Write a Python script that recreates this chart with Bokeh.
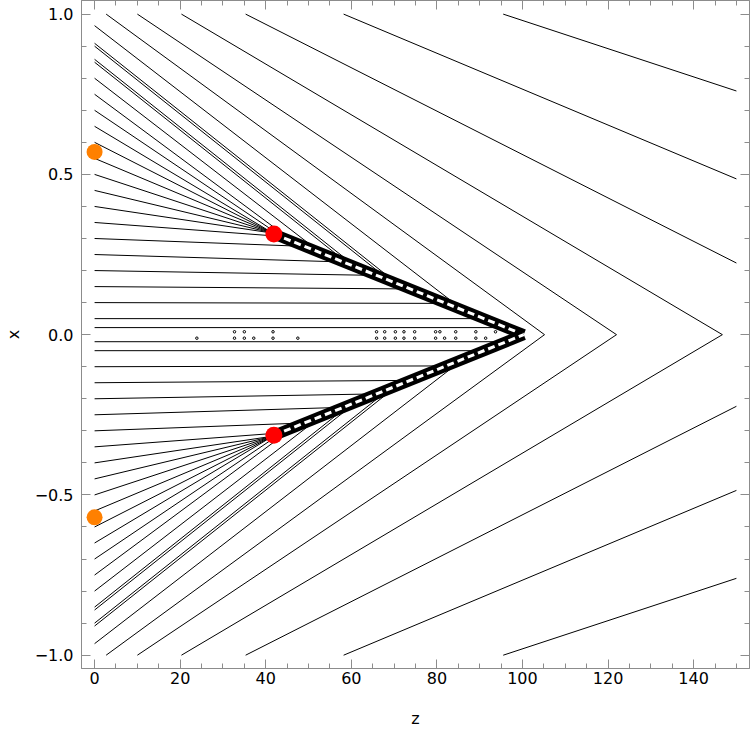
import numpy as np
from bokeh.plotting import figure
from bokeh.models import Range1d, SingleIntervalTicker, LinearAxis, CustomJSTickFormatter
from bokeh.embed import file_html
from bokeh.resources import INLINE

# ---- data ----
# rays starting on the left edge (z = 0), upper half; lower half is the mirror image
ray_x0 = [0.022, 0.05, 0.10, 0.15, 0.20, 0.25, 0.30, 0.35, 0.40, 0.45, 0.50,
          0.55, 0.60, 0.65, 0.70, 0.75, 0.80, 0.85, 0.859, 0.90, 0.909, 0.964]
ray_slope = [0.0, 0.0, -0.00003, -0.0001, -0.00023, -0.0004, -0.0005, -0.0010,
             -0.0020, -0.0032, -0.0044, -0.0056, -0.0068, -0.0080, -0.0090,
             -0.0099, -0.0103, -0.0106, -0.0106, -0.0106, -0.0106, -0.0103]
# rays entering through the top edge (x = 1)
top_z = [2.7, 10.0, 20.3, 35.3, 58.2, 95.5]
top_slope = [-0.00976, -0.00893, -0.00791, -0.00677, -0.0056, -0.0044]
# shock front (upper branch)
shock_z = [41.9, 100.3]
shock_x = [0.314, 0.0]
# marked points
orange_z = [0.0, 0.0]
orange_x = [0.57, -0.57]
red_z = [41.9, 41.9]
red_x = [0.314, -0.314]
# tiny contour artefacts near the axis
dots_up_z = [32.7, 35.0, 41.7, 65.9, 67.8, 70.3, 72.3, 74.8, 79.7, 80.7, 84.4, 89.1, 93.7]
dots_dn_z = [23.9, 32.7, 35.0, 37.2, 41.7, 47.5, 65.9, 67.8, 70.3, 72.3, 74.8, 79.7, 81.8, 84.4, 89.1, 91.4]
dots_x = [0.009, -0.011]

Z_MAX = 150.0

b = (shock_x[1] - shock_x[0]) / (shock_z[1] - shock_z[0])
a = shock_x[0] - b * shock_z[0]


def ray_end(z0, x0, s):
    ends = [Z_MAX]
    if s < 0:
        ends.append(z0 - x0 / s)
    if s != b:
        zi = (a - x0 + s * z0) / (s - b)
        if z0 < zi <= shock_z[1]:
            ends.append(zi)
    return min(ends)


xs, ys = [], []
starts = [(0.0, x0, s) for x0, s in zip(ray_x0, ray_slope)] + \
         [(z0, 1.0, s) for z0, s in zip(top_z, top_slope)]
for z0, x0, s in starts:
    z1 = ray_end(z0, x0, s)
    x1 = x0 + s * (z1 - z0)
    for sign in (1, -1):
        xs.append([z0, z1])
        ys.append([sign * x0, sign * x1])

p = figure(width=750, height=732, x_range=Range1d(-3.06, 153.06),
           y_range=Range1d(-1.0415, 1.0425), output_backend="svg",
           toolbar_location=None, min_border_left=81, min_border_right=1,
           min_border_top=0, min_border_bottom=64)
p.xgrid.visible = False
p.ygrid.visible = False
p.background_fill_color = "white"
p.border_fill_color = "white"
p.outline_line_color = "#8c8c8c"

# rays
p.multi_line(xs, ys, line_color="black", line_width=1)

# shock band
for sign in (1, -1):
    sx = [sign * v for v in shock_x]
    p.line(shock_z, sx, line_color="black", line_width=11)
    p.line(shock_z, sx, line_color="white", line_width=3, line_dash="7 4")

# artefacts near the axis
p.scatter(dots_up_z, [dots_x[0]] * len(dots_up_z), size=2.5, marker="circle",
          fill_color="white", line_color="black", line_width=1)
p.scatter(dots_dn_z, [dots_x[1]] * len(dots_dn_z), size=2.5, marker="circle",
          fill_color="white", line_color="black", line_width=1)

# points
p.scatter(orange_z, orange_x, size=16, marker="circle", fill_color="#ff8000", line_color=None)
p.scatter(red_z, red_x, size=17, marker="circle", fill_color="#ff0000", line_color=None)

FONT = "DejaVu Sans"
GRAY = "#8c8c8c"

xt = SingleIntervalTicker(interval=20, num_minor_ticks=4)
yt = SingleIntervalTicker(interval=0.5, num_minor_ticks=5)
yfmt = CustomJSTickFormatter(code="return tick.toFixed(1).replace('-', '\u2212');")
blank = CustomJSTickFormatter(code="return '';")


def style(ax, labels=True):
    ax.axis_line_color = GRAY
    ax.major_tick_line_color = GRAY
    ax.minor_tick_line_color = GRAY
    ax.major_tick_in = 9
    ax.major_tick_out = 0
    ax.minor_tick_in = 5
    ax.minor_tick_out = 0
    if labels:
        ax.major_label_text_font = FONT
        ax.major_label_text_font_size = "16px"
        ax.major_label_text_color = "black"
        ax.axis_label_text_font = FONT
        ax.axis_label_text_font_size = "16px"
        ax.axis_label_text_font_style = "normal"
        ax.axis_label_text_color = "black"
    else:
        ax.formatter = blank
        ax.major_label_standoff = 0
        ax.axis_label = None


p.xaxis.ticker = xt
p.yaxis.ticker = yt
p.yaxis.formatter = yfmt
style(p.xaxis[0])
style(p.yaxis[0])
p.xaxis.axis_label = "z"
p.yaxis.axis_label = "x"
p.xaxis.major_label_standoff = 3
p.yaxis.major_label_standoff = 8
p.xaxis.axis_label_standoff = 22
p.yaxis.axis_label_standoff = 9

top = LinearAxis(ticker=SingleIntervalTicker(interval=20, num_minor_ticks=4))
right = LinearAxis(ticker=SingleIntervalTicker(interval=0.5, num_minor_ticks=5))
style(top, labels=False)
style(right, labels=False)
p.add_layout(top, "above")
p.add_layout(right, "right")

open("out.html", "w").write(file_html(p, INLINE))
